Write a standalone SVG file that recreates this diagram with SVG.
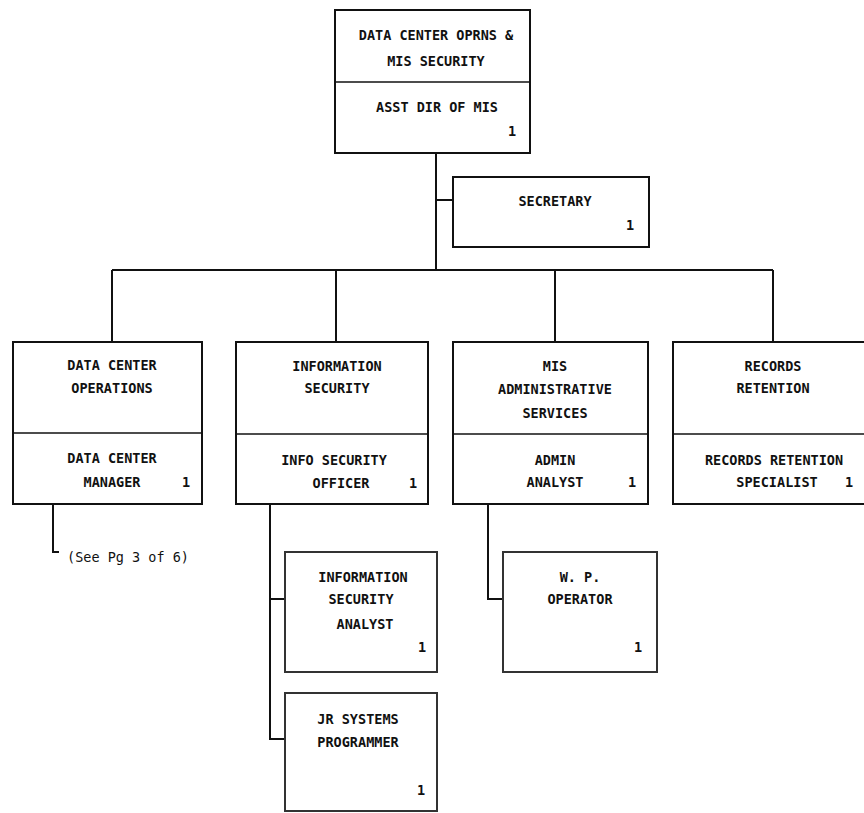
<svg xmlns="http://www.w3.org/2000/svg" width="864" height="813" viewBox="0 0 864 813">
<style>
.bg{fill:#fff}
.box{fill:#fff;stroke:#111;stroke-width:2}
.box2{fill:#fff;stroke:#333;stroke-width:2}
.div{stroke:#111;stroke-width:1.6}
.ln{fill:none;stroke:#111;stroke-width:2}
.t{font-family:"DejaVu Sans Mono","Liberation Mono",monospace;font-weight:bold;font-size:13.5px;fill:#111;text-anchor:middle}
.n{font-family:"DejaVu Sans Mono","Liberation Mono",monospace;font-weight:bold;font-size:13.5px;fill:#111;text-anchor:middle}
.note{font-family:"DejaVu Sans Mono","Liberation Mono",monospace;font-size:13.5px;fill:#111}
</style>
<rect class="bg" x="0" y="0" width="864" height="813"/>

<g id="connectors">
  <path class="ln" d="M436,153 V270"/>
  <path class="ln" d="M436,200 H453"/>
  <path class="ln" d="M112,270 H773"/>
  <path class="ln" d="M112,270 V342"/>
  <path class="ln" d="M336,270 V342"/>
  <path class="ln" d="M555,270 V342"/>
  <path class="ln" d="M773,270 V342"/>
  <path class="ln" d="M53,504 V552 H59"/>
  <path class="ln" d="M270,504 V739 H285"/>
  <path class="ln" d="M270,599 H285"/>
  <path class="ln" d="M488,504 V599 H503"/>
</g>

<g id="node-top">
  <rect class="box" x="335" y="10" width="195" height="143"/>
  <line class="div" x1="335" y1="82" x2="530" y2="82"/>
  <text class="t" x="436" y="40">DATA CENTER OPRNS &amp;</text>
  <text class="t" x="436" y="66">MIS SECURITY</text>
  <text class="t" x="437" y="112">ASST DIR OF MIS</text>
  <text class="n" x="512" y="136">1</text>
</g>

<g id="node-secretary">
  <rect class="box" x="453" y="177" width="196" height="70"/>
  <text class="t" x="555" y="206">SECRETARY</text>
  <text class="n" x="630" y="230">1</text>
</g>

<g id="node-dco">
  <rect class="box" x="13" y="342" width="189" height="162"/>
  <line class="div" x1="13" y1="433" x2="202" y2="433"/>
  <text class="t" x="112" y="370">DATA CENTER</text>
  <text class="t" x="112" y="393">OPERATIONS</text>
  <text class="t" x="112" y="463">DATA CENTER</text>
  <text class="t" x="112" y="487">MANAGER</text>
  <text class="n" x="186" y="487">1</text>
</g>

<g id="node-infosec">
  <rect class="box" x="236" y="342" width="192" height="162"/>
  <line class="div" x1="236" y1="434" x2="428" y2="434"/>
  <text class="t" x="337" y="371">INFORMATION</text>
  <text class="t" x="337" y="393">SECURITY</text>
  <text class="t" x="334" y="465">INFO SECURITY</text>
  <text class="t" x="341" y="488">OFFICER</text>
  <text class="n" x="413" y="488">1</text>
</g>

<g id="node-misadmin">
  <rect class="box" x="453" y="342" width="195" height="162"/>
  <line class="div" x1="453" y1="434" x2="648" y2="434"/>
  <text class="t" x="555" y="371">MIS</text>
  <text class="t" x="555" y="394">ADMINISTRATIVE</text>
  <text class="t" x="555" y="418">SERVICES</text>
  <text class="t" x="555" y="465">ADMIN</text>
  <text class="t" x="555" y="487">ANALYST</text>
  <text class="n" x="632" y="487">1</text>
</g>

<g id="node-records">
  <rect class="box" x="673" y="342" width="193" height="162"/>
  <line class="div" x1="673" y1="434" x2="866" y2="434"/>
  <text class="t" x="773" y="371">RECORDS</text>
  <text class="t" x="773" y="393">RETENTION</text>
  <text class="t" x="774" y="465">RECORDS RETENTION</text>
  <text class="t" x="777" y="487">SPECIALIST</text>
  <text class="n" x="849" y="487">1</text>
</g>

<g id="note-see-pg">
  <text class="note" x="67" y="562">(See Pg 3 of 6)</text>
</g>

<g id="node-isa">
  <rect class="box2" x="285" y="552" width="152" height="120"/>
  <text class="t" x="363" y="582">INFORMATION</text>
  <text class="t" x="361" y="604">SECURITY</text>
  <text class="t" x="365" y="629">ANALYST</text>
  <text class="n" x="422" y="652">1</text>
</g>

<g id="node-jr">
  <rect class="box2" x="285" y="693" width="152" height="118"/>
  <text class="t" x="358" y="724">JR SYSTEMS</text>
  <text class="t" x="358" y="747">PROGRAMMER</text>
  <text class="n" x="421" y="795">1</text>
</g>

<g id="node-wp">
  <rect class="box2" x="503" y="552" width="154" height="120"/>
  <text class="t" x="580" y="582">W. P.</text>
  <text class="t" x="580" y="604">OPERATOR</text>
  <text class="n" x="638" y="652">1</text>
</g>
</svg>
